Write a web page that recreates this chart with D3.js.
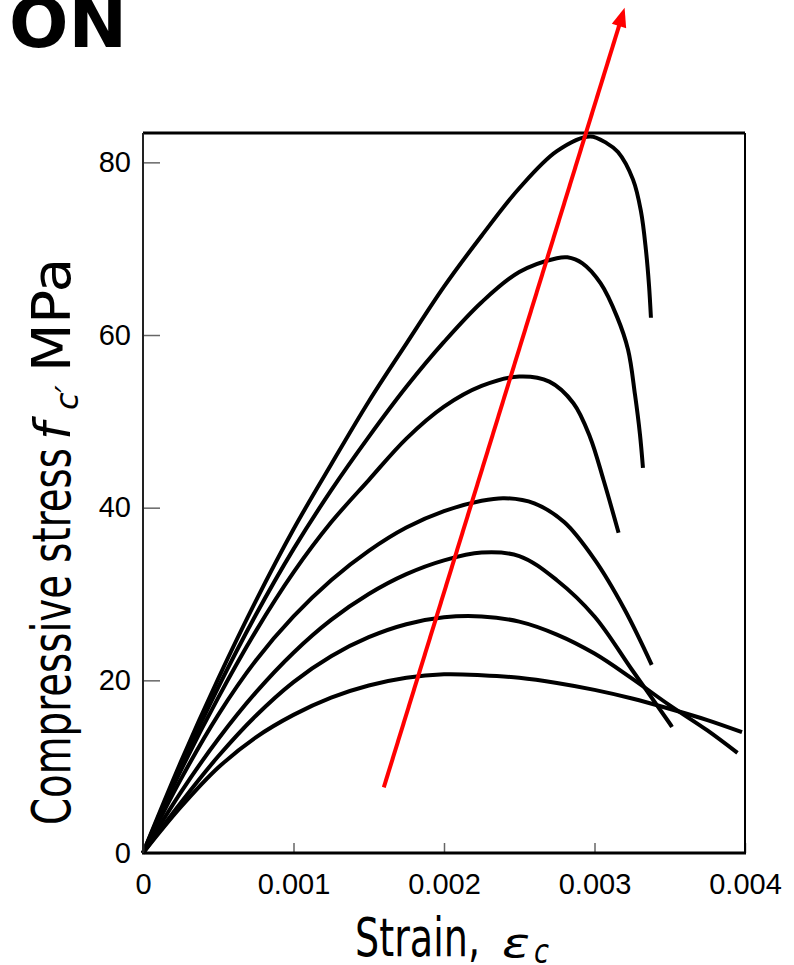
<!DOCTYPE html>
<html>
<head>
<meta charset="utf-8">
<script src="https://cdn.jsdelivr.net/npm/d3@7"></script>
<style>
  body { margin: 0; background: #fff; }
  svg { display: block; }
</style>
</head>
<body>
<svg id="chart" width="794" height="965"></svg>
<script>
// tick values
const strainTicks = [0, 0.001, 0.002, 0.003, 0.004];
const stressTicks = [0, 20, 40, 60, 80];

// stress-strain curves, [strain, stress MPa]
const curve20 = [[0,0],[0.00025,5.3],[0.0005,9.9],[0.00075,13.4],[0.001,16.0],[0.00125,18.0],[0.0015,19.4],[0.00175,20.3],[0.002,20.7],[0.00225,20.6],[0.0025,20.3],[0.00275,19.7],[0.003,18.9],[0.00325,17.9],[0.0035,16.7],[0.00375,15.4],[0.00398,14.0]];
const curve27 = [[0,0],[0.00025,5.8],[0.0005,11.2],[0.00075,15.9],[0.001,19.8],[0.00125,22.8],[0.0015,25.0],[0.00175,26.5],[0.002,27.3],[0.00225,27.4],[0.0025,26.8],[0.00275,25.3],[0.003,23.1],[0.00325,20.2],[0.0035,17.1],[0.00375,14.2],[0.00395,11.6]];
const curve35 = [[0,0],[0.00025,7.0],[0.0005,13.2],[0.00075,18.6],[0.001,23.2],[0.00125,27.0],[0.0015,30.0],[0.00175,32.3],[0.002,33.9],[0.00225,34.8],[0.0025,34.4],[0.00275,31.6],[0.003,27.4],[0.00325,21.2],[0.0035,15.0],[0.003515,14.6]];
const curve41 = [[0,0],[0.00025,8.5],[0.0005,16.0],[0.00075,22.3],[0.001,27.4],[0.00125,31.6],[0.0015,35.0],[0.00175,37.7],[0.002,39.6],[0.00225,40.8],[0.0024,41.1],[0.0026,40.5],[0.0028,38.3],[0.003,34.0],[0.0032,28.2],[0.00338,21.8]];
const curve55 = [[0,0],[0.00025,9.5],[0.0005,18.0],[0.00075,25.7],[0.001,32.5],[0.00125,38.3],[0.0015,43.2],[0.00175,48.0],[0.002,51.7],[0.00225,54.1],[0.0025,55.2],[0.0027,54.6],[0.00286,52.1],[0.00297,48.2],[0.00306,43.2],[0.00316,37.1]];
const curve69 = [[0,0],[0.00025,10.0],[0.0005,19.2],[0.00075,27.6],[0.001,35.2],[0.00125,42.0],[0.0015,48.2],[0.00175,54.0],[0.002,59.2],[0.00225,63.8],[0.0025,67.3],[0.00275,68.9],[0.00282,69.0],[0.00292,68.3],[0.00304,66.0],[0.00315,62.1],[0.003223,58.3],[0.003269,53.1],[0.003302,48.5],[0.003322,44.6]];
const curve83 = [[0,0],[0.00025,10.5],[0.0005,20.2],[0.00075,29.2],[0.001,37.5],[0.00125,45.0],[0.0015,52.3],[0.00175,59.0],[0.002,65.6],[0.00225,71.5],[0.0025,77.0],[0.00275,81.3],[0.00297,83.0],[0.003083,82.2],[0.003156,81.2],[0.003256,78.0],[0.003309,74.3],[0.003342,69.8],[0.003362,65.8],[0.003375,62.0]];

// red arrow (strain, stress) from start to tip
const arrowStart = [0.0016, 7.6];
const arrowEnd = [0.0032, 97.9];

const svg = d3.select("#chart");

const x = d3.scaleLinear().domain([0, 0.004]).range([143, 745]);
const y = d3.scaleLinear().domain([0, 83.4]).range([853, 133]);

// title fragment at top left
svg.append("text")
    .attr("x", 9).attr("y", 47)
    .style("font-family", "'DejaVu Sans', sans-serif")
    .style("font-weight", "bold")
    .style("font-size", "70px")
    .text("ON");

// curves
const line = d3.line()
    .x(d => x(d[0]))
    .y(d => y(d[1]))
    .curve(d3.curveCatmullRom.alpha(0.5));

const curves = [curve20, curve27, curve35, curve41, curve55, curve69, curve83];
svg.append("g")
    .selectAll("path")
    .data(curves)
    .enter().append("path")
    .attr("d", line)
    .attr("fill", "none")
    .attr("stroke", "#000")
    .attr("stroke-width", 4);

// axes
const yAxis = svg.append("g")
    .attr("transform", `translate(${x(0)},0)`)
    .call(d3.axisLeft(y).tickValues(stressTicks).tickSize(-17).tickPadding(12));

const xAxis = svg.append("g")
    .attr("transform", `translate(0,${y(0)})`)
    .call(d3.axisBottom(x).tickValues(strainTicks).tickSize(-10).tickPadding(20)
        .tickFormat(d => d === 0 ? "0" : d3.format(".3f")(d)));

[xAxis, yAxis].forEach(g => {
    g.select(".domain").remove();
    g.selectAll(".tick line").attr("stroke", "#666").attr("stroke-width", 1.5);
    g.selectAll(".tick text")
        .attr("fill", "#000")
        .style("font-family", "'Liberation Sans', Arial, sans-serif")
        .style("font-size", "29px");
});

// frame
const x0 = x(0), x1 = x(0.004), yb = y(0), yt = y.range()[1];
svg.append("line").attr("x1", x0).attr("x2", x1).attr("y1", yt).attr("y2", yt)
    .attr("stroke", "#000").attr("stroke-width", 3);
svg.append("line").attr("x1", x0 - 1).attr("x2", x1 + 1).attr("y1", yb).attr("y2", yb)
    .attr("stroke", "#000").attr("stroke-width", 3);
svg.append("line").attr("x1", x0).attr("x2", x0).attr("y1", yt).attr("y2", yb)
    .attr("stroke", "#222").attr("stroke-width", 2);
svg.append("line").attr("x1", x1).attr("x2", x1).attr("y1", yt).attr("y2", yb)
    .attr("stroke", "#000").attr("stroke-width", 2);

// red arrow
const ax0 = x(arrowStart[0]), ay0 = y(arrowStart[1]);
const ax1 = x(arrowEnd[0]), ay1 = y(arrowEnd[1]);
const len = Math.hypot(ax1 - ax0, ay1 - ay0);
const ux = (ax1 - ax0) / len, uy = (ay1 - ay0) / len;
const headLen = 19, headW = 7.5;
svg.append("line")
    .attr("x1", ax0).attr("y1", ay0)
    .attr("x2", ax1 - ux * (headLen - 2)).attr("y2", ay1 - uy * (headLen - 2))
    .attr("stroke", "#ff0000").attr("stroke-width", 4);
const bx = ax1 - ux * headLen, by = ay1 - uy * headLen;
svg.append("path")
    .attr("d", `M${ax1},${ay1}L${bx - uy * headW},${by + ux * headW}L${bx + uy * headW},${by - ux * headW}Z`)
    .attr("fill", "#ff0000");

// axis titles
const titleFont = "'DejaVu Sans', Verdana, sans-serif";

svg.append("text")
    .attr("x", 355).attr("y", 956)
    .attr("textLength", 125).attr("lengthAdjust", "spacingAndGlyphs")
    .style("font-family", titleFont).style("font-size", "53px")
    .text("Strain,");
svg.append("text")
    .attr("x", 502).attr("y", 957)
    .attr("textLength", 28).attr("lengthAdjust", "spacingAndGlyphs")
    .style("font-family", titleFont).style("font-style", "italic").style("font-size", "40px")
    .text("ε");
svg.append("text")
    .attr("x", 534).attr("y", 963)
    .attr("textLength", 15).attr("lengthAdjust", "spacingAndGlyphs")
    .style("font-family", titleFont).style("font-style", "italic").style("font-size", "34px")
    .text("c");

const yTitle = svg.append("g").attr("transform", "rotate(-90)");
yTitle.append("text")
    .attr("x", -825).attr("y", 70)
    .attr("textLength", 377).attr("lengthAdjust", "spacingAndGlyphs")
    .style("font-family", titleFont).style("font-size", "53px")
    .text("Compressive stress");
yTitle.append("text")
    .attr("x", -440).attr("y", 70)
    .style("font-family", titleFont).style("font-style", "italic").style("font-size", "50px")
    .text("f");
yTitle.append("text")
    .attr("x", -410).attr("y", 78)
    .style("font-family", titleFont).style("font-style", "italic").style("font-size", "32px")
    .text("c′");
yTitle.append("text")
    .attr("x", -372).attr("y", 70)
    .attr("textLength", 114).attr("lengthAdjust", "spacingAndGlyphs")
    .style("font-family", titleFont).style("font-size", "53px")
    .text("MPa");
</script>
</body>
</html>
